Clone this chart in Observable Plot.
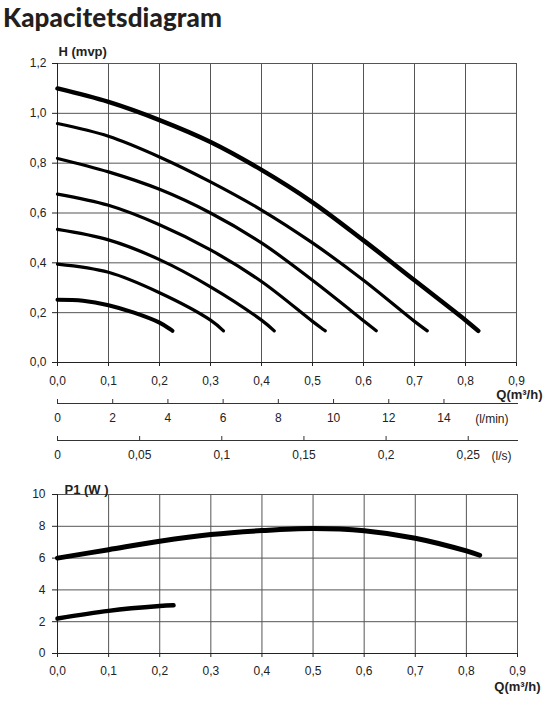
<!DOCTYPE html>
<html>
<head>
<meta charset="utf-8">
<script src="https://cdn.jsdelivr.net/npm/d3@7"></script>
<script src="https://cdn.jsdelivr.net/npm/@observablehq/plot@0.6"></script>
<style>
  body { margin: 0; background: #fff; }
  #page { position: relative; width: 550px; height: 710px; overflow: hidden; background: #fff; }
  #page > div { position: absolute; left: 0; }
  #title { left: 3px !important; top: 1px; font: 900 26px Lato, sans-serif; letter-spacing: 0.1px; color: #231f20; }
  #head { top: 36px; z-index: 2; }
  #lmin { top: 396px; z-index: 1; }
  #ls { top: 433px; z-index: 1; }
  #power { top: 470px; z-index: 1; }
</style>
</head>
<body>
<div id="page">
  <div id="title">Kapacitetsdiagram</div>
  <div id="head"></div>
  <div id="lmin"></div>
  <div id="ls"></div>
  <div id="power"></div>
</div>
<script>
  // tick values
  const qTicks = [0, 0.1, 0.2, 0.3, 0.4, 0.5, 0.6, 0.7, 0.8, 0.9];
  const hTicks = [0, 0.2, 0.4, 0.6, 0.8, 1.0, 1.2];
  const pTicks = [0, 2, 4, 6, 8, 10];
  const lminTicks = [0, 2, 4, 6, 8, 10, 12, 14];
  const lsTicks = [0, 0.05, 0.1, 0.15, 0.2, 0.25];

  // pump curves H(Q), top to bottom
  const q1 = [0, 0.1, 0.2, 0.3, 0.4, 0.5, 0.6, 0.7, 0.8, 0.825];
  const h1 = [1.10, 1.046, 0.973, 0.885, 0.773, 0.643, 0.49, 0.33, 0.17, 0.127];
  const q2 = [0, 0.1, 0.2, 0.3, 0.4, 0.5, 0.6, 0.7, 0.725];
  const h2 = [0.959, 0.908, 0.825, 0.725, 0.612, 0.48, 0.33, 0.165, 0.127];
  const q3 = [0, 0.1, 0.2, 0.3, 0.4, 0.5, 0.6, 0.625];
  const h3 = [0.819, 0.765, 0.695, 0.6, 0.48, 0.33, 0.168, 0.127];
  const q4 = [0, 0.1, 0.2, 0.3, 0.4, 0.5, 0.525];
  const h4 = [0.676, 0.631, 0.553, 0.452, 0.325, 0.165, 0.127];
  const q5 = [0, 0.1, 0.2, 0.3, 0.4, 0.425];
  const h5 = [0.534, 0.492, 0.413, 0.304, 0.17, 0.127];
  const q6 = [0, 0.1, 0.2, 0.3, 0.3255];
  const h6 = [0.395, 0.362, 0.28, 0.17, 0.127];
  const q7 = [0, 0.05, 0.1, 0.15, 0.2, 0.2255];
  const h7 = [0.252, 0.248, 0.23, 0.2, 0.16, 0.127];

  // power curves P1(Q)
  const qPmax = [0, 0.1, 0.2, 0.3, 0.4, 0.5, 0.6, 0.7, 0.8, 0.826];
  const pMax = [6.0, 6.53, 7.06, 7.48, 7.73, 7.86, 7.72, 7.25, 6.45, 6.18];
  const qPmin = [0, 0.1, 0.2, 0.227];
  const pMin = [2.2, 2.68, 2.98, 3.03];

  const comma = d => String(d).replace(".", ",");
  const comma1 = d => d.toFixed(1).replace(".", ",");
  const pairs = (xs, ys) => xs.map((x, i) => ({q: x, v: ys[i]}));

  const headCurves = [[q1, h1, 4.5], [q2, h2, 3.2], [q3, h3, 3.2], [q4, h4, 3.2],
                      [q5, h5, 3.2], [q6, h6, 3.2], [q7, h7, 4]];

  const baseStyle = {fontFamily: "'Liberation Sans', Arial, sans-serif", fontSize: "12px", color: "#222", background: "none", overflow: "visible"};
  const gridColor = "#555";

  // head chart
  const head = Plot.plot({
    width: 550, height: 376,
    marginLeft: 57, marginRight: 34, marginTop: 27, marginBottom: 50,
    style: baseStyle,
    x: {domain: [0, 0.9]},
    y: {domain: [0, 1.2]},
    marks: [
      Plot.gridX(qTicks, {stroke: gridColor, strokeOpacity: 1}),
      Plot.gridY(hTicks, {stroke: gridColor, strokeOpacity: 1}),
      Plot.axisX(qTicks, {tickSize: 4, tickPadding: 10, tickFormat: comma1, label: null}),
      Plot.axisY(hTicks, {tickSize: 5, tickPadding: 6, tickFormat: comma1, label: null}),
      Plot.ruleX([0], {stroke: "#222"}),
      Plot.ruleY([0], {stroke: "#222"}),
      ...headCurves.map(([xs, ys, w]) =>
        Plot.line(pairs(xs, ys), {x: "q", y: "v", stroke: "#000", strokeWidth: w, strokeLinecap: "round", curve: "catmull-rom"})),
      Plot.text(["H (mvp)"], {frameAnchor: "top-left", textAnchor: "start", dx: 1, dy: -17, fontWeight: "bold", fontSize: 13, letterSpacing: "1.5px"}),
      Plot.text(["Q(m³/h)"], {frameAnchor: "bottom-right", textAnchor: "end", dx: 26, dy: 36, fontWeight: "bold", fontSize: 13})
    ]
  });
  document.getElementById("head").appendChild(head);

  // secondary flow axes
  function flowAxis(id, ticks, domain, unit, unitDx) {
    const chart = Plot.plot({
      width: 550, height: 36,
      marginLeft: 57, marginRight: 32, marginTop: 3, marginBottom: 29,
      style: baseStyle,
      x: {domain, axis: null},
      y: {domain: [0, 1], axis: null},
      marks: [
        Plot.ruleY([0], {stroke: "#333"}),
        Plot.ruleX(ticks, {x: d => d, y1: 0, y2: 1, stroke: "#333"}),
        Plot.text(ticks, {x: d => d, text: comma, frameAnchor: "bottom", dy: 18}),
        Plot.text([unit], {frameAnchor: "bottom-right", dx: unitDx, dy: 19})
      ]
    });
    document.getElementById(id).appendChild(chart);
  }
  flowAxis("lmin", lminTicks, [0, 16.7], "(l/min)", -10);
  flowAxis("ls", lsTicks, [0, 0.2806], "(l/s)", -7);

  // power chart
  const power = Plot.plot({
    width: 550, height: 240,
    marginLeft: 57, marginRight: 33, marginTop: 24, marginBottom: 57,
    style: baseStyle,
    x: {domain: [0, 0.9]},
    y: {domain: [0, 10]},
    marks: [
      Plot.gridX(qTicks, {stroke: gridColor, strokeOpacity: 1}),
      Plot.gridY(pTicks, {stroke: gridColor, strokeOpacity: 1}),
      Plot.axisX(qTicks, {tickSize: 4, tickPadding: 9, tickFormat: comma1, label: null}),
      Plot.axisY(pTicks, {tickSize: 5, tickPadding: 7, label: null}),
      Plot.ruleX([0], {stroke: "#222"}),
      Plot.ruleY([0], {stroke: "#222"}),
      Plot.line(pairs(qPmax, pMax), {x: "q", y: "v", stroke: "#000", strokeWidth: 5, strokeLinecap: "round", curve: "catmull-rom"}),
      Plot.line(pairs(qPmin, pMin), {x: "q", y: "v", stroke: "#000", strokeWidth: 4.5, strokeLinecap: "round", curve: "catmull-rom"}),
      Plot.text(["P1 (W )"], {frameAnchor: "top-left", textAnchor: "start", dx: 7, dy: -10, fontWeight: "bold", fontSize: 13}),
      Plot.text(["Q(m³/h)"], {frameAnchor: "bottom-right", textAnchor: "end", dx: 23, dy: 37, fontWeight: "bold", fontSize: 13})
    ]
  });
  document.getElementById("power").appendChild(power);
</script>
</body>
</html>
